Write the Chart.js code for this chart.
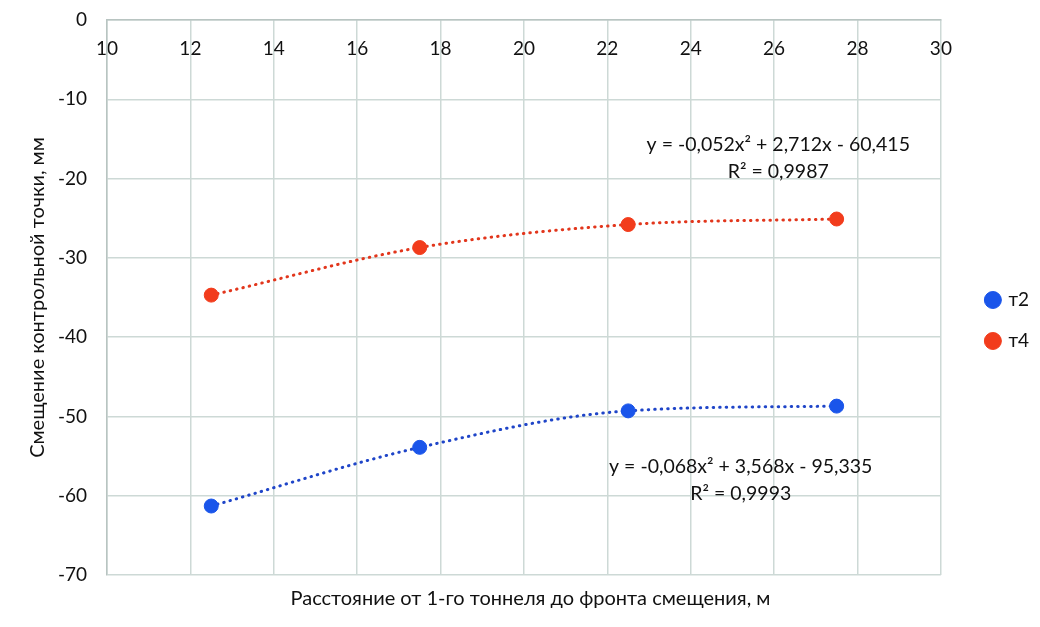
<!DOCTYPE html>
<html>
<head>
<meta charset="utf-8">
<script src="https://cdn.jsdelivr.net/npm/chart.js@4/dist/chart.umd.min.js"></script>
<style>
  html, body { margin: 0; padding: 0; background: #fff; }
  #wrap { width: 1040px; height: 627px; }
</style>
</head>
<body>
<div id="wrap"><canvas id="chart"></canvas></div>
<script>
const distances = [12.5, 17.5, 22.5, 27.5];
const t2Values = [-61.3, -53.9, -49.3, -48.7];
const t4Values = [-34.7, -28.7, -25.8, -25.1];
const seriesNames = ['т2', 'т4'];
const t2Trend = ['y = -0,068x² + 3,568x - 95,335', 'R² = 0,9993'];
const t4Trend = ['y = -0,052x² + 2,712x - 60,415', 'R² = 0,9987'];

const FONT = 'Lato, "Open Sans", sans-serif';
const BLUE = '#1a55ea';
const BLUE_LINE = '#1f45c8';
const RED = '#f23c1c';
const RED_LINE = '#e2361c';

const toPoints = (xs, ys) => xs.map((x, i) => ({ x: x, y: ys[i] }));

// equation labels, placed next to each trend line
const trendLabels = {
    id: 'trendLabels',
    afterDatasetsDraw(chart) {
        const ctx = chart.ctx;
        const sx = chart.scales.x;
        const sy = chart.scales.y;
        ctx.save();
        ctx.font = '19.5px ' + FONT;
        ctx.fillStyle = '#111';
        ctx.textAlign = 'center';
        ctx.textBaseline = 'middle';
        const draw = (lines, xv, yv) => {
            const px = sx.getPixelForValue(xv);
            const py = sy.getPixelForValue(yv);
            lines.forEach((l, i) => ctx.fillText(l, px, py + i * 27));
        };
        draw(t4Trend, 26.1, -15.76);
        draw(t2Trend, 25.2, -56.3);
        ctx.restore();
    }
};

new Chart(document.getElementById('chart'), {
    type: 'scatter',
    data: {
        datasets: [
            {
                label: seriesNames[0],
                data: toPoints(distances, t2Values),
                backgroundColor: BLUE,
                borderColor: BLUE,
                pointRadius: 7,
                pointHoverRadius: 7,
                showLine: false
            },
            {
                label: seriesNames[1],
                data: toPoints(distances, t4Values),
                backgroundColor: RED,
                borderColor: RED,
                pointRadius: 7,
                pointHoverRadius: 7,
                showLine: false
            },
            {
                label: 'trend2',
                data: toPoints(distances, t2Values),
                showLine: true,
                borderColor: BLUE_LINE,
                borderWidth: 3,
                borderDash: [0.5, 6],
                borderCapStyle: 'round',
                cubicInterpolationMode: 'monotone',
                pointRadius: 0,
                order: 5
            },
            {
                label: 'trend4',
                data: toPoints(distances, t4Values),
                showLine: true,
                borderColor: RED_LINE,
                borderWidth: 3,
                borderDash: [0.5, 6],
                borderCapStyle: 'round',
                cubicInterpolationMode: 'monotone',
                pointRadius: 0,
                order: 5
            }
        ]
    },
    options: {
        responsive: true,
        maintainAspectRatio: false,
        animation: false,
        layout: {
            padding: { top: 20, left: 22, right: 1, bottom: 6 }
        },
        scales: {
            x: {
                type: 'linear',
                position: { y: 0 },
                min: 10,
                max: 30,
                ticks: {
                    stepSize: 2,
                    color: '#111',
                    font: { family: FONT, size: 19 },
                    padding: 17
                },
                grid: { color: '#cdd9d6', lineWidth: 1.5, drawTicks: false },
                border: { color: '#b8c4c1', width: 1.5 }
            },
            y: {
                min: -70,
                max: 0,
                afterFit: s => { s.width = 85; s.paddingTop = 0; },
                ticks: {
                    stepSize: 10,
                    color: '#111',
                    font: { family: FONT, size: 19 },
                    padding: 20
                },
                grid: { color: '#cdd9d6', lineWidth: 1.5, drawTicks: false },
                border: { color: '#b8c4c1', width: 1.5 },
                title: {
                    display: true,
                    text: 'Смещение контрольной точки, мм',
                    color: '#111',
                    font: { family: FONT, size: 20 },
                    padding: { top: 4, bottom: 0 }
                }
            },
            // empty spacer between plot and legend
            yR: {
                position: 'right',
                min: -70,
                max: 0,
                ticks: { display: false },
                grid: { display: false },
                border: { display: false },
                afterFit: s => { s.width = 24; }
            }
        },
        plugins: {
            title: {
                display: true,
                position: 'bottom',
                text: 'Расстояние от 1-го тоннеля до фронта смещения, м',
                color: '#111',
                font: { family: FONT, size: 20, weight: 'normal' },
                padding: { top: 12, bottom: 10 }
            },
            legend: {
                position: 'right',
                labels: {
                    usePointStyle: true,
                    pointStyle: 'circle',
                    boxWidth: 12,
                    boxHeight: 12,
                    padding: 22,
                    color: '#111',
                    font: { family: FONT, size: 19 },
                    filter: item => seriesNames.includes(item.text)
                }
            },
            tooltip: { enabled: false }
        }
    },
    plugins: [trendLabels]
});
</script>
</body>
</html>
